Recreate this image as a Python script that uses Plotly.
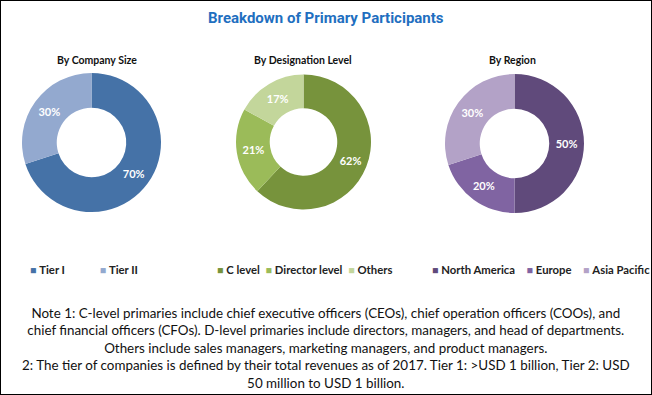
import plotly.graph_objects as go

# ---- data ----
title_text = "Breakdown of Primary Participants"

size_title = "By Company Size"
size_labels = ["Tier I", "Tier II"]
size_values = [70, 30]
size_colors = ["#4572A7", "#93A9CF"]

desig_title = "By Designation Level"
desig_labels = ["C level", "Director level", "Others"]
desig_values = [62, 21, 17]
desig_colors = ["#77933C", "#9BBB59", "#C3D69B"]

region_title = "By Region"
region_labels = ["North America", "Europe", "Asia Pacific"]
region_values = [50, 20, 30]
region_colors = ["#604A7B", "#8064A2", "#B3A2C7"]

note_lines = [
    "Note 1: C-level primaries include chief executive officers (CEOs), chief operation officers (COOs), and",
    "chief financial officers (CFOs). D-level primaries include directors, managers, and head of departments.",
    "Others include sales managers, marketing managers, and product managers.",
    "2: The tier of companies is defined by their total revenues as of 2017. Tier 1: >USD 1 billion, Tier 2: USD",
    "50 million to USD 1 billion.",
]

W, H = 652, 395


def px_x(x):
    return x / W


def px_y(y):
    return 1 - y / H


fig = go.Figure()

pies = [
    (size_title, size_labels, size_values, size_colors, (22, 161), (73, 212), 97, 28, 12),
    (desig_title, desig_labels, desig_values, desig_colors, (236, 371), (74.5, 209.5), 303, 215, 2),
    (region_title, region_labels, region_values, region_colors, (445, 584), (74, 213), 512, 430, 4),
]

for title, labels, values, colors, (x0, x1), (y0, y1), tx, lx, gap in pies:
    fig.add_trace(go.Pie(
        labels=labels,
        values=values,
        marker=dict(colors=colors, line=dict(width=0)),
        hole=0.5,
        sort=False,
        direction="clockwise",
        rotation=0,
        textinfo="percent",
        texttemplate="%{percent:.0%}",
        textposition="inside",
        insidetextorientation="horizontal",
        textfont=dict(family="Lato", size=11, color="white", weight="bold"),
        domain=dict(x=[px_x(x0), px_x(x1)], y=[px_y(y1), px_y(y0)]),
        showlegend=False,
        hoverinfo="label+percent",
    ))
    fig.add_annotation(
        text=f"<b>{title}</b>", x=px_x(tx), y=px_y(60), xref="paper", yref="paper",
        showarrow=False, font=dict(family="Lato", size=10.5, color="#111111"),
        xanchor="center", yanchor="middle",
    )
    legend_text = ("&nbsp;" * gap).join(
        f"<span style='color:{c};font-size:10.5px'>■</span> <b>{lab}</b>"
        for lab, c in zip(labels, colors)
    )
    fig.add_annotation(
        text=legend_text, x=px_x(lx), y=px_y(269), xref="paper", yref="paper",
        showarrow=False, font=dict(family="Lato", size=11.3, color="#222222"),
        xanchor="left", yanchor="middle",
    )

fig.add_annotation(
    text=f"<b>{title_text}</b>", x=0.5, y=px_y(18), xref="paper", yref="paper",
    showarrow=False, font=dict(family="Roboto", size=15, color="#1F6FC0"),
    xanchor="center", yanchor="middle",
)

fig.add_annotation(
    text="<br>".join(note_lines), x=0.5, y=px_y(348), xref="paper", yref="paper",
    showarrow=False, font=dict(family="Lato", size=13.4, color="#111111"),
    xanchor="center", yanchor="middle", align="center",
)

fig.add_shape(type="rect", xref="paper", yref="paper", x0=0, x1=1, y0=0, y1=1,
              line=dict(color="#000000", width=2))

fig.update_layout(
    width=W, height=H, autosize=False,
    margin=dict(l=0, r=0, t=0, b=0),
    paper_bgcolor="white", plot_bgcolor="white",
    showlegend=False,
)

fig.write_html("out.html", config={"displayModeBar": False},
               post_script="document.body.style.margin='0px';")
